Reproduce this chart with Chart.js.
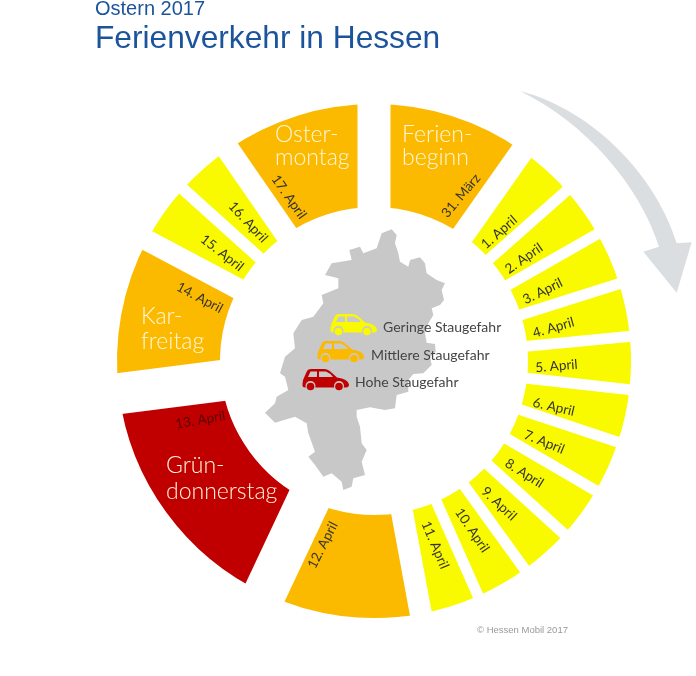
<!DOCTYPE html>
<html><head><meta charset="utf-8">
<style>html,body{margin:0;padding:0;background:#fff}canvas{display:block}</style>
<script src="https://cdn.jsdelivr.net/npm/chart.js@4"></script>
</head><body>
<canvas id="c" width="696" height="676"></canvas>
<script>
// ---- data ----
const days = ['31. März','1. April','2. April','3. April','4. April','5. April','6. April','7. April','8. April','9. April','10. April','11. April','12. April','13. April','14. April','15. April','16. April','17. April'];
const spans = [35.2,13.3,11.9,12.1,12,11.9,12,11.9,12,11.8,12,13.4,35.7,57.5,35.3,14,13.4,34.6];
const levels = [2,1,1,1,1,1,1,1,1,1,1,1,2,3,2,1,1,2];
const legendLabels = ['Geringe Staugefahr','Mittlere Staugefahr','Hohe Staugefahr'];
const titleLines = ['Ostern 2017','Ferienverkehr in Hessen'];
const credit = '© Hessen Mobil 2017';

// ---- layout and style ----
const levelColors = {1:'#F9F900',2:'#FBB900',3:'#C00000'};
const gaps = [33,23,11,11,11,11,11,11,11,11,11,11,22,43,41,21,12,23];
const labelTheta = [27.9,44.3,55.7,67.6,79.5,91.6,104.3,115.4,126.7,138.7,149.8,161.5,195.4,251.2,290,305.5,317.9,332.7];
const labelRadius = [187,180,182,183,183,183,186,189,188,190,196,194,191,183,185,186,187,184.5];
const labelRot = [-50,-41,-35,-26,-16,-5,13,22,32,43,56,67,-63,-10,28,38,47,55];
const holidayText = [
  {lines:['Ferien-','beginn'],x:402,y:[135,158]},
  {lines:['Oster-','montag'],x:275,y:[135,158]},
  {lines:['Kar-','freitag'],x:141,y:[317,342]},
  {lines:['Grün-','donnerstag'],x:166,y:[466,492]}
];
const legendRows = [{car:[330,314],tx:383,ty:327,level:1},{car:[317,341],tx:371,ty:355,level:2},{car:[302,369],tx:355,ty:382,level:3}];
const hessen = [395,28,410,45,405,70,415,100,420,125,445,140,450,120,480,112,495,130,500,160,530,180,555,190,545,210,552,240,540,255,515,265,520,285,505,310,495,340,500,368,525,372,527,395,510,410,515,435,490,460,460,462,445,480,445,515,410,525,405,565,375,570,330,562,290,570,290,590,300,620,305,670,320,690,305,725,315,765,280,775,275,800,250,810,245,785,215,760,190,770,165,735,145,710,165,695,145,640,140,610,105,590,45,608,15,578,45,550,50,530,85,510,75,470,60,460,75,410,105,385,100,340,125,300,160,290,190,250,185,225,235,205,235,175,195,165,215,130,275,120,268,90,300,80,310,100,350,85,365,40];

function drawCar(ctx,x,y,color){
  ctx.save();ctx.translate(x,y);
  ctx.fillStyle=color;
  ctx.beginPath();
  ctx.moveTo(0.5,15);ctx.lineTo(1,11);ctx.lineTo(5,2);ctx.quadraticCurveTo(6,0,9,0);
  ctx.lineTo(22,0);ctx.quadraticCurveTo(26,0,30,4);ctx.lineTo(35,8.5);
  ctx.quadraticCurveTo(46,10,47,15.5);ctx.quadraticCurveTo(47,18.5,44,18.5);
  ctx.lineTo(3,18.5);ctx.quadraticCurveTo(0,18.5,0.5,15);ctx.closePath();ctx.fill();
  ctx.fillStyle='#C9C9C9';
  ctx.beginPath();ctx.moveTo(6,8);ctx.lineTo(8.5,2.5);ctx.lineTo(15,2.5);ctx.lineTo(15,8);ctx.closePath();ctx.fill();
  ctx.beginPath();ctx.moveTo(17,2.5);ctx.lineTo(24,2.5);ctx.quadraticCurveTo(28,4,31,8);ctx.lineTo(17,8);ctx.closePath();ctx.fill();
  [8.5,37].forEach(cx=>{
    ctx.fillStyle='#C9C9C9';ctx.beginPath();ctx.arc(cx,17,5,0,Math.PI*2);ctx.fill();
    ctx.fillStyle=color;ctx.beginPath();ctx.arc(cx,17.5,3.8,0,Math.PI*2);ctx.fill();
  });
  ctx.restore();
}

const ringDecor = {
  id:'ringDecor',
  afterDatasetsDraw(chart){
    const ctx=chart.ctx, arcs=chart.getDatasetMeta(0).data;
    ctx.save();
    // parallel white gaps centred on each slice boundary
    ctx.strokeStyle='#fff';
    arcs.forEach((a,i)=>{
      ctx.lineWidth=gaps[i];
      const c=Math.cos(a.startAngle),s=Math.sin(a.startAngle);
      ctx.beginPath();
      ctx.moveTo(a.x+c*(a.innerRadius-4),a.y+s*(a.innerRadius-4));
      ctx.lineTo(a.x+c*(a.outerRadius+4),a.y+s*(a.outerRadius+4));
      ctx.stroke();
    });
    // direction arrow
    ctx.save();ctx.translate(460,80);ctx.scale(1/3,1/3);
    ctx.fillStyle='#DADEE0';
    ctx.beginPath();ctx.moveTo(180,33);
    ctx.bezierCurveTo(400,90,590,290,650,490);
    ctx.lineTo(695,487);ctx.lineTo(650,638);ctx.lineTo(550,515);ctx.lineTo(597,500);
    ctx.bezierCurveTo(540,320,380,130,180,33);ctx.closePath();ctx.fill();
    ctx.restore();
    // state outline
    ctx.save();ctx.translate(260,220);ctx.scale(1/3,1/3);
    ctx.fillStyle='#C8C8C8';ctx.beginPath();
    for(let i=0;i<hessen.length;i+=2){ctx[i?'lineTo':'moveTo'](hessen[i],hessen[i+1]);}
    ctx.closePath();ctx.fill();ctx.restore();
    // legend
    legendRows.forEach((r,i)=>{
      drawCar(ctx,r.car[0],r.car[1],levelColors[r.level]);
      ctx.font='14px Lato';ctx.fillStyle='#444';ctx.textBaseline='middle';ctx.textAlign='left';
      ctx.fillText(legendLabels[i],r.tx,r.ty);
    });
    // date labels
    ctx.font='13.5px Lato';ctx.textAlign='center';ctx.textBaseline='middle';
    days.forEach((d,i)=>{
      const t=labelTheta[i]*Math.PI/180;
      ctx.save();
      ctx.translate(373.5+Math.sin(t)*labelRadius[i],361-Math.cos(t)*labelRadius[i]);
      ctx.rotate(labelRot[i]*Math.PI/180);
      ctx.fillStyle=levels[i]===3?'#5A0000':'#333';
      ctx.fillText(d,0,0);ctx.restore();
    });
    // holiday names
    ctx.font='300 23px Lato';ctx.textAlign='left';ctx.fillStyle='#FFF6DC';
    holidayText.forEach(h=>h.lines.forEach((l,j)=>ctx.fillText(l,h.x,h.y[j])));
    // titles and credit
    ctx.textBaseline='alphabetic';ctx.fillStyle='#1C549C';
    ctx.font='20px "Liberation Sans"';ctx.fillText(titleLines[0],95,15);
    ctx.font='31.7px "Liberation Sans"';ctx.fillText(titleLines[1],95,48);
    ctx.font='9.5px "Liberation Sans"';ctx.fillStyle='#9A9A9A';ctx.fillText(credit,477,633);
    ctx.restore();
  }
};

new Chart(document.getElementById('c'),{
  type:'doughnut',
  data:{labels:days,datasets:[{data:spans,backgroundColor:levels.map(l=>levelColors[l]),borderWidth:0}]},
  options:{
    responsive:false,animation:false,cutout:154,
    layout:{padding:{left:116,right:64,top:104,bottom:58}},
    plugins:{legend:{display:false},tooltip:{enabled:false},title:{display:false}}
  },
  plugins:[ringDecor]
});
</script>
</body></html>
